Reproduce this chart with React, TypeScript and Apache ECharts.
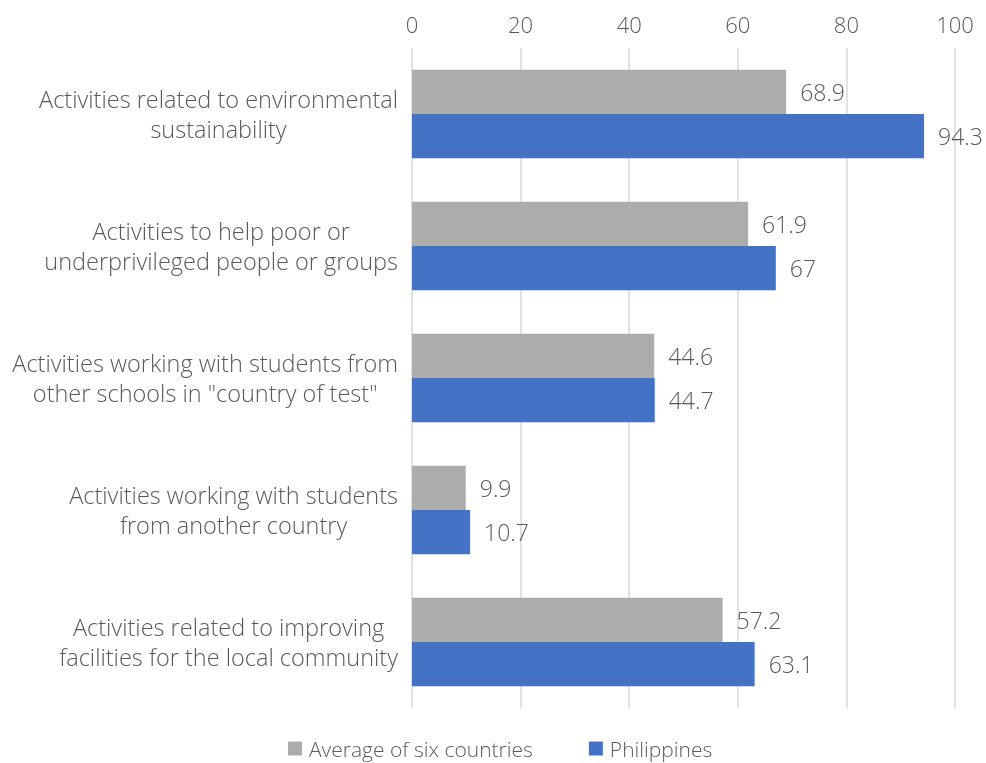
import React, { useEffect, useRef } from "react";
import * as echarts from "echarts";

const categories = [
  "Activities related to environmental\nsustainability",
  "Activities to help poor or\nunderprivileged people or groups",
  "Activities working with students from\nother schools in \"country of test\"",
  "Activities working with students\nfrom another country",
  "Activities related to improving\nfacilities for the local community",
];
const seriesNames = ["Average of six countries", "Philippines"];
const averageValues = [68.9, 61.9, 44.6, 9.9, 57.2];
const philippinesValues = [94.3, 67, 44.7, 10.7, 63.1];
const xTicks = [0, 20, 40, 60, 80, 100];

const FONT = "'Open Sans', 'Noto Sans', sans-serif";
const TEXT = "#595959";

export default function App() {
  const ref = useRef<HTMLDivElement>(null);
  useEffect(() => {
    if (!ref.current) return;
    const chart = echarts.init(ref.current, undefined, { renderer: "svg" });
    const label = {
      show: true,
      position: "right",
      distance: 14,
      fontSize: 23,
      fontWeight: 300,
      color: TEXT,
      fontFamily: FONT,
    };
    chart.setOption({
      animation: false,
      textStyle: { fontFamily: FONT },
      grid: { left: 412, right: 31, top: 48, bottom: 55, containLabel: false },
      legend: {
        top: 733,
        left: 283,
        itemWidth: 14,
        itemHeight: 14,
        itemGap: 56,
        icon: "rect",
        textStyle: {
          fontSize: 21,
          fontWeight: 300,
          color: TEXT,
          fontFamily: FONT,
          padding: [0, 0, 0, 2],
        },
        data: seriesNames,
      },
      xAxis: {
        type: "value",
        position: "top",
        min: xTicks[0],
        max: xTicks[xTicks.length - 1],
        interval: 20,
        axisLine: { show: false },
        axisTick: { show: false },
        splitLine: { show: true, lineStyle: { color: "#D9D9D9", width: 1.5 } },
        axisLabel: { fontSize: 22, fontWeight: 300, color: TEXT, margin: 13, fontFamily: FONT },
      },
      yAxis: {
        type: "category",
        inverse: true,
        data: categories,
        axisLine: { show: false },
        axisTick: { show: false },
        axisLabel: {
          margin: 14,
          formatter: (v: string) =>
            v.split("\n").map((l) => `{c|${l}}`).join("\n"),
          rich: {
            c: {
              align: "center",
              fontSize: 23.5,
              fontWeight: 300,
              lineHeight: 30,
              color: TEXT,
              fontFamily: FONT,
            },
          },
        },
      },
      series: [
        {
          name: seriesNames[0],
          type: "bar",
          data: averageValues,
          barGap: "0%",
          barCategoryGap: "33%",
          itemStyle: { color: "#AEABAB" },
          label,
        },
        {
          name: seriesNames[1],
          type: "bar",
          data: philippinesValues,
          barGap: "0%",
          barCategoryGap: "33%",
          itemStyle: { color: "#4472C4" },
          label,
        },
      ],
    });
    return () => chart.dispose();
  }, []);
  return (
    <div
      ref={ref}
      style={{ position: "fixed", left: 0, top: 0, width: 986, height: 763 }}
    />
  );
}
